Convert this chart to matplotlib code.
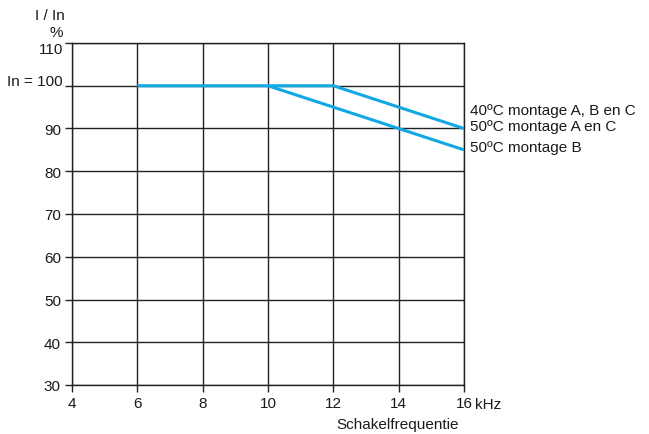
import matplotlib
matplotlib.use("Agg")
import matplotlib.pyplot as plt

plt.rcParams['font.family'] = ['Liberation Sans', 'DejaVu Sans']

freq_a = [6, 12, 16]
curr_a = [100, 100, 90]
freq_b = [10, 16]
curr_b = [100, 85]

x_ticks = [4, 6, 8, 10, 12, 14, 16]
x_labels = ['4', '6', '8', '10', '12', '14', '16']
y_ticks = [30, 40, 50, 60, 70, 80, 90, 100, 110]
y_labels = ['30', '40', '50', '60', '70', '80', '90', '', '']

labels = ['40ºC montage A, B en C', '50ºC montage A en C', '50ºC montage B']
label_y = [94.4, 90.65, 85.6]

FS = 11
TXT = '#1a1a1a'

W, H = 649, 435
fig = plt.figure(figsize=(W/100, H/100), dpi=100)
ax = fig.add_axes([72/W, 1-386/H, (464-72)/W, (386-44)/H])

ax.set_xlim(4, 16)
ax.set_ylim(30, 110)
ax.set_xticks(x_ticks)
ax.set_xticklabels(x_labels, fontsize=FS, color=TXT)
ax.set_yticks(y_ticks)
ax.set_yticklabels(y_labels, fontsize=FS, color=TXT)
ax.tick_params(axis='both', length=5, width=1, color='#222222', pad=3)
ax.grid(True, color='#222222', linewidth=1)
for s in ax.spines.values():
    s.set_color('#222222')
    s.set_linewidth(1)

line_color = '#12a8e2'
ax.plot(freq_a, curr_a, color=line_color, linewidth=2.2, solid_capstyle='butt', zorder=3)
ax.plot(freq_b, curr_b, color=line_color, linewidth=2.2, solid_capstyle='butt', zorder=3)

# special y labels (slightly offset as in reference)
fig.text(63/W, 1-50/H, '110', fontsize=FS, color=TXT, ha='right', va='center')
fig.text(63/W, 1-82/H, 'In = 100', fontsize=FS, color=TXT, ha='right', va='center')

for t, y in zip(labels, label_y):
    ax.annotate(t, xy=(16, y), xycoords='data', xytext=(6, 0), textcoords='offset pixels',
                fontsize=FS, color=TXT, va='center', ha='left', annotation_clip=False)

fig.text(475/W, 1-405/H, 'kHz', fontsize=FS, color=TXT, ha='left', va='center')
fig.text(459/W, 1-425/H, 'Schakelfrequentie', fontsize=FS, color=TXT, ha='right', va='center')

fig.text(65/W, 1-16/H, 'I / In', fontsize=FS, color=TXT, ha='right', va='center')
fig.text(63/W, 1-33/H, '%', fontsize=FS, color=TXT, ha='right', va='center')

fig.savefig('out.png', dpi=100)
